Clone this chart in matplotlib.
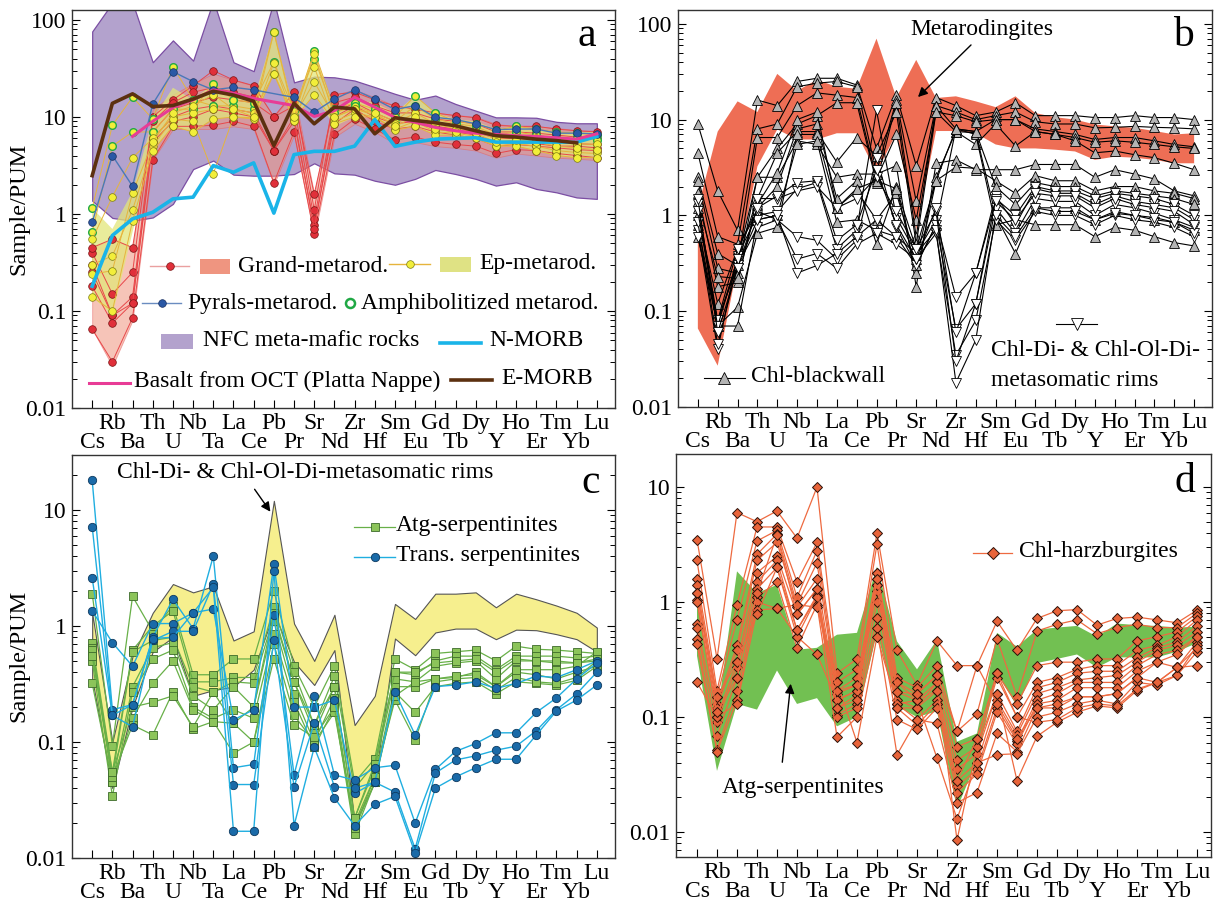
import numpy as np
import matplotlib
matplotlib.use('Agg')
import matplotlib.pyplot as plt
import matplotlib.transforms as mtransforms
from matplotlib.lines import Line2D
from matplotlib.patches import Rectangle, FancyArrowPatch
from matplotlib.ticker import NullFormatter

plt.rcParams['font.family'] = ['Liberation Serif', 'DejaVu Serif']
plt.rcParams['font.size'] = 17

W, H = 1216, 902
FS = 17
elements = ['Cs', 'Rb', 'Ba', 'Th', 'U', 'Nb', 'Ta', 'La', 'Ce', 'Pb', 'Pr', 'Sr', 'Nd',
            'Zr', 'Hf', 'Sm', 'Eu', 'Gd', 'Tb', 'Dy', 'Y', 'Ho', 'Er', 'Tm', 'Yb', 'Lu']
x = np.arange(len(elements))

# ---------------- panel a ----------------
nfc_hi = [76, 150, 150, 36.6, 61.5, 38, 158, 36.6, 29.6, 158, 22.7, 26, 25.6, 23.7, 20.3,
          17.3, 15.0, 16.6, 13.6, 11.6, 9.9, 9.9, 9.8, 8.9, 8.6, 8.6]
nfc_lo = [1.37, 0.91, 0.85, 0.92, 1.27, 2.9, 3.55, 2.54, 2.48, 2.48, 2.58, 3.33, 2.62, 2.54, 2.2,
          2.0, 2.3, 2.84, 2.58, 2.3, 1.96, 2.12, 1.81, 1.67, 1.48, 1.43]
grand_hi = [0.45, 0.55, 0.45, 12, 17, 22, 28, 24, 21, 10, 18, 1.6, 17, 19, 16,
            13, 13, 11, 10.5, 10, 8.5, 8, 8, 7.7, 7.3, 7.2]
grand_lo = [0.065, 0.027, 0.08, 3.6, 7.5, 7.5, 7.5, 8, 7.5, 2.0, 6.5, 0.58, 6.2, 8.5, 7,
            5.3, 5.5, 5, 4.8, 4.5, 3.8, 4.2, 4, 3.8, 3.7, 3.6]
ep_hi = [1.15, 0.7, 1.7, 9.5, 20, 15, 22, 16, 15, 75, 12, 48, 12, 15, 14,
         11, 16.5, 11, 9.5, 9, 7.5, 8, 7.5, 7, 7, 7]
ep_lo = [0.14, 0.09, 0.65, 4.5, 8, 7, 9.5, 10, 9.5, 28, 9, 17, 8, 10, 10,
         7.3, 8, 6.5, 6.5, 6, 5, 5, 4.5, 4, 3.8, 3.8]
grand_samples = [
    [0.065, 0.03, 0.085, 3.6, 8, 8, 8.2, 9, 8, 2.1, 7, 0.62, 6.6, 9.5, 7.5, 5.8, 6.2, 5.5, 5.2, 5, 4.2, 4.6, 4.5, 4.2, 4, 3.8],
    [0.18, 0.075, 0.12, 5.5, 9, 10, 12, 11, 10, 4.5, 9, 0.77, 8.5, 12, 9, 7.5, 8, 7, 6.5, 6, 5, 5.2, 5, 4.8, 4.6, 4.5],
    [0.3, 0.09, 0.14, 7, 12, 14, 16, 15, 14, 10, 13, 0.88, 11, 14, 11, 9, 9.5, 8, 7.5, 7, 6, 6, 5.8, 5.5, 5.3, 5.2],
    [0.4, 0.15, 0.25, 10, 15, 21, 30, 24, 21, 10, 18, 1.1, 17, 18, 15, 13, 12, 11, 10.3, 9.8, 8.2, 8, 8, 7.5, 7.2, 7],
    [0.45, 0.55, 0.45, 9, 14, 18, 20, 18, 16, 4.5, 15, 1.6, 14, 16, 13, 11, 11, 9.5, 9, 8.5, 7, 7, 6.8, 6.5, 6.2, 6],
    [0.25, 0.09, 0.12, 6, 10, 12, 13, 12, 11, 4.5, 10, 0.7, 10, 13, 10, 8.5, 9, 7.5, 7, 6.5, 5.5, 5.5, 5.3, 5, 5, 4.8],
]
ep_samples = [
    [1.15, 8.2, 16, 9.5, 33, 15, 13, 13, 12, 75, 11, 48, 12, 14, 12, 10, 16.5, 11, 9, 8.5, 7.3, 8, 7.5, 7, 6.8, 6.5],
    [0.65, 5, 7, 7, 12, 12, 22, 15, 14, 37, 11.5, 40, 11, 13, 11, 9, 13, 9.5, 8.5, 8, 6.5, 7, 6.5, 6, 6, 5.8],
    [0.55, 1.5, 3.8, 6, 10, 11, 12, 12, 11, 28, 10, 23, 10, 12, 10.5, 8.5, 11, 8.5, 7.5, 7, 6, 6.2, 6, 5.5, 5.3, 5.2],
    [0.3, 0.37, 1.1, 5, 9.5, 9, 2.6, 10, 9.8, 36, 9.5, 17, 9, 11, 10, 7.5, 9, 7, 6.8, 6.3, 5, 5.3, 5, 4.5, 4.3, 4.2],
    [0.14, 0.1, 0.85, 4.5, 8, 7, 9.5, 10, 9.5, 28, 9, 33, 8.5, 10, 10, 7.3, 8, 6.5, 6.5, 6, 5, 5, 4.5, 4, 3.8, 3.8],
    [0.24, 0.26, 1.65, 5.5, 11, 13, 17, 12, 10, 75, 10, 45, 10, 12, 11, 8, 10, 7.5, 7, 6.8, 5.5, 5.8, 5.5, 5, 4.8, 4.6],
]
pyrals_x = [0, 1, 2, 3, 4, 5, 6, 7, 8, 10, 11, 12, 13, 14, 15, 16, 17, 18, 19, 20, 21, 22, 23, 24, 25]
pyrals = [0.82, 4.0, 1.93, 13.6, 29.3, 23.1, 19, 20.2, 19.0, 15.9, 11.2, 15.3, 19.0, 15.3,
          11.9, 13.1, 9.9, 9.4, 8.5, 7.4, 7.5, 7.5, 6.8, 6.8, 6.7]
n_morb = [0.18, 0.6, 0.89, 1.04, 1.43, 1.49, 3.15, 2.69, 3.36, 1.02, 4.09, 4.42, 4.42, 5.0, 9.4,
          4.97, 5.5, 5.9, 6.0, 6.1, 5.5, 5.5, 5.5, 5.5, 5.5, 6.3]
e_morb_x = list(range(25))
e_morb = [2.48, 13.8, 17.3, 12.8, 13.1, 15.3, 18.4, 16.8, 14.5, 5.06, 13.8, 8.5, 12.6, 12.1, 6.7,
          9.8, 9.2, 8.7, 8.1, 7.2, 6.4, 6.2, 5.9, 5.7, 5.4]
oct_x = [2, 3, 4, 5, 6, 7, 8, 10, 11, 12, 13, 14, 15, 16, 17, 18, 19, 20, 21, 22, 23, 24, 25]
oct_basalt = [6.3, 9.0, 12.5, 15, 19, 17.5, 15.5, 13.1, 10.1, 11.6, 15.9, 12.6, 9.9, 8.8, 7.8,
              7.2, 6.8, 6.6, 6.4, 6.3, 6.1, 5.9, 6.7]

# ---------------- panel b ----------------
metarod_hi = [1.2, 7.5, 15.5, 12, 30, 20, 26, 22, 21, 70, 17, 42, 16.8, 17.5, 15.5,
              13.5, 17.5, 11.7, 10.6, 10, 8.9, 8.5, 8.2, 7.6, 7.0, 7.2]
metarod_lo = [0.066, 0.027, 0.3, 3.25, 7.9, 6.2, 6.2, 7.2, 7.2, 2.8, 7.2, 0.71, 7.6, 7.6, 7.2,
              5.5, 5.0, 5.0, 4.85, 4.65, 3.8, 4.1, 4.0, 3.8, 3.5, 3.5]
blackwall = [
    [9, 1.8, 0.7, 16, 14, 25, 27, 27, 23, 5, 18, 3.3, 17, 14, 11, 12, 15, 11, 11, 11, 10.5, 10.5, 11, 10.5, 10.5, 10],
    [4.5, 0.6, 0.5, 8, 9, 22, 24, 25, 22, 2.8, 16, 1.4, 14, 12, 10, 11, 12, 9.5, 9, 9, 8.2, 8.3, 8.5, 8.3, 8.2, 8],
    [2.5, 0.4, 0.3, 6.5, 6.5, 14, 19, 18, 17, 2.4, 7, 0.9, 12, 11, 9.5, 10, 10, 8, 7.5, 7, 6.2, 6.5, 6.5, 6, 5.5, 5.2],
    [2.3, 0.28, 0.25, 2.5, 5, 9, 11, 15, 15, 2.2, 15, 0.6, 14, 8, 7.5, 10, 10, 7.5, 7, 6.5, 5.8, 6, 5.8, 5.5, 5.2, 5],
    [1.7, 0.18, 0.2, 1.5, 4.5, 7.5, 7.5, 3.6, 6.5, 4.2, 12, 0.5, 12, 7.5, 5.5, 9, 5.3, 7.5, 7, 6, 4.5, 4.7, 4.3, 4, 3.5, 3],
    [1.2, 0.075, 0.35, 2.5, 2.5, 6, 5.5, 2.5, 2.7, 2.7, 3.3, 0.18, 3.5, 3.8, 3, 3, 3, 3.4, 3.4, 3.4, 2.5, 3, 2.7, 2.4, 1.8, 1.6],
    [1.0, 0.12, 0.45, 1.2, 2.0, 8, 9, 1.5, 2.3, 0.5, 2.0, 0.25, 2.3, 3.2, 3.1, 2.3, 1.7, 2.6, 2.3, 2.3, 1.8, 2, 2, 1.8, 1.7, 1.5],
    [0.8, 0.07, 0.11, 0.65, 0.75, 7, 7, 1.2, 1.8, 0.9, 1.7, 0.35, 2.5, 7.5, 7.3, 1.0, 0.4, 1.2, 1.2, 1.2, 0.9, 1.1, 1.0, 0.9, 0.85, 0.7],
    [0.6, 0.07, 0.07, 0.9, 1.0, 5.5, 6, 0.85, 0.9, 0.7, 0.6, 0.3, 0.8, 8, 7, 0.8, 0.9, 0.8, 0.8, 0.8, 0.6, 0.75, 0.7, 0.6, 0.52, 0.48],
    [1.4, 0.23, 0.22, 1.3, 2.8, 10, 12, 1.2, 1.9, 2.3, 1.9, 0.45, 2.3, 8, 7.5, 2.0, 1.3, 2.2, 2.0, 2.0, 1.6, 1.8, 1.7, 1.6, 1.5, 1.3],
]
rims_b = [
    [0.7, 0.04, 0.38, 1.0, 1.1, 1.9, 2.2, 0.45, 0.7, 12.5, 0.95, 0.4, 0.9, 0.14, 0.25, 1.6, 0.8, 1.9, 1.7, 1.7, 1.3, 1.6, 1.4, 1.3, 1.2, 0.9],
    [0.85, 0.045, 0.3, 0.75, 0.9, 0.6, 0.55, 0.35, 0.55, 4, 0.75, 0.3, 0.8, 0.065, 0.12, 1.2, 0.65, 1.5, 1.4, 1.4, 1.0, 1.3, 1.2, 1.05, 0.9, 0.75],
    [1.3, 0.08, 0.45, 1.1, 0.9, 0.35, 0.4, 0.28, 0.5, 0.65, 0.5, 0.35, 0.65, 0.035, 0.08, 0.9, 0.55, 1.1, 1.0, 1.0, 0.8, 1.0, 0.9, 0.85, 0.75, 0.6],
    [0.6, 0.08, 0.3, 0.9, 1.0, 0.25, 0.3, 0.4, 0.6, 0.9, 0.6, 0.4, 0.7, 0.018, 0.05, 1.0, 0.6, 1.2, 1.1, 1.1, 0.9, 1.05, 1.0, 0.95, 0.85, 0.65],
    [1.1, 0.07, 0.35, 1.5, 1.5, 1.8, 2.0, 1.2, 1.5, 2.5, 1.1, 0.45, 1.1, 0.03, 0.12, 1.5, 1.0, 2.0, 1.8, 1.8, 1.5, 1.7, 1.6, 1.5, 1.3, 1.0],
    [1.5, 0.06, 0.28, 1.2, 1.6, 2.2, 2.3, 0.55, 0.8, 3.0, 0.8, 0.35, 1.2, 0.06, 0.25, 1.4, 0.9, 1.7, 1.6, 1.6, 1.2, 1.5, 1.3, 1.2, 1.1, 0.8],
]

# ---------------- panel c ----------------
rims_hi = [1.3, 0.1, 0.55, 1.3, 2.3, 1.95, 2.2, 0.75, 0.9, 12, 1.05, 0.5, 1.25, 0.14, 0.25,
           1.55, 1.15, 1.9, 1.9, 1.95, 1.45, 1.9, 1.7, 1.5, 1.3, 0.97]
rims_lo = [0.35, 0.04, 0.2, 0.6, 0.8, 0.25, 0.28, 0.3, 0.42, 1.3, 0.49, 0.31, 0.62, 0.02, 0.045,
           0.78, 0.56, 0.88, 0.95, 0.95, 0.77, 0.93, 0.92, 0.85, 0.77, 0.6]
atg_samples = [
    [1.9, 0.093, 1.8, 0.9, 1.5, 0.38, 0.38, 0.52, 0.52, 2.0, 0.45, 0.2, 0.45, 0.045, 0.072, 0.52, 0.42, 0.58, 0.6, 0.62, 0.5, 0.67, 0.63, 0.62, 0.6, 0.58],
    [0.72, 0.055, 0.62, 1.0, 1.35, 0.33, 0.33, 0.36, 0.36, 1.45, 0.4, 0.14, 0.37, 0.04, 0.065, 0.4, 0.38, 0.5, 0.55, 0.55, 0.42, 0.55, 0.55, 0.55, 0.53, 0.55],
    [0.65, 0.05, 0.6, 0.75, 0.8, 0.3, 0.27, 0.33, 0.32, 1.2, 0.33, 0.12, 0.3, 0.022, 0.06, 0.35, 0.33, 0.45, 0.48, 0.5, 0.35, 0.5, 0.5, 0.48, 0.48, 0.5],
    [0.6, 0.045, 0.3, 0.65, 0.72, 0.25, 0.19, 0.3, 0.2, 1.1, 0.26, 0.1, 0.24, 0.018, 0.05, 0.3, 0.3, 0.35, 0.36, 0.4, 0.3, 0.4, 0.38, 0.35, 0.4, 0.45],
    [0.5, 0.034, 0.27, 0.52, 0.62, 0.2, 0.16, 0.19, 0.16, 0.85, 0.22, 0.09, 0.2, 0.016, 0.045, 0.27, 0.18, 0.3, 0.32, 0.33, 0.26, 0.33, 0.32, 0.31, 0.34, 0.45],
    [0.32, 0.045, 0.16, 0.32, 0.5, 0.19, 0.15, 0.145, 0.1, 0.7, 0.17, 0.1, 0.18, 0.02, 0.05, 0.23, 0.105, 0.33, 0.35, 0.36, 0.28, 0.36, 0.33, 0.32, 0.36, 0.5],
    [0.62, 0.05, 0.14, 0.115, 0.27, 0.13, 0.15, 0.08, 0.1, 0.52, 0.14, 0.11, 0.2, 0.018, 0.045, 0.25, 0.33, 0.35, 0.37, 0.38, 0.3, 0.42, 0.42, 0.42, 0.45, 0.6],
    [0.55, 0.055, 0.2, 0.22, 0.25, 0.135, 0.27, 0.145, 0.2, 1.3, 0.33, 0.14, 0.3, 0.022, 0.065, 0.4, 0.4, 0.48, 0.5, 0.52, 0.4, 0.52, 0.5, 0.5, 0.48, 0.52],
]
trans_samples = [
    [1.35, 0.72, 0.45, 1.05, 1.05, 1.3, 1.4, 0.155, 0.19, 3.4, 0.2, 0.2, 0.23, 0.036, 0.045, 0.27, 0.115, 0.3, 0.31, 0.33, 0.29, 0.32, 0.37, 0.36, 0.42, 0.5],
    [18, 0.19, 0.21, 0.8, 1.7, 0.95, 4.0, 0.06, 0.064, 1.25, 0.052, 0.25, 0.052, 0.047, 0.06, 0.063, 0.02, 0.058, 0.083, 0.097, 0.12, 0.12, 0.18, 0.24, 0.35, 0.48],
    [7.2, 0.17, 0.135, 0.75, 0.9, 0.9, 2.3, 0.043, 0.043, 0.75, 0.041, 0.145, 0.041, 0.04, 0.045, 0.037, 0.012, 0.054, 0.07, 0.076, 0.085, 0.092, 0.125, 0.19, 0.26, 0.4],
    [2.6, 0.17, 0.21, 0.78, 0.8, 1.3, 2.15, 0.017, 0.017, 3.0, 0.019, 0.09, 0.033, 0.019, 0.029, 0.034, 0.011, 0.04, 0.05, 0.06, 0.071, 0.071, 0.115, 0.185, 0.23, 0.31],
]

# ---------------- panel d ----------------
atg_hi = [1.05, 0.1, 1.85, 1.2, 1.41, 0.385, 0.4, 0.52, 0.54, 2.04, 0.455, 0.26, 0.47, 0.061, 0.072,
          0.54, 0.41, 0.575, 0.6, 0.62, 0.5, 0.65, 0.63, 0.62, 0.6, 0.61]
atg_lo = [0.34, 0.034, 0.13, 0.116, 0.254, 0.13, 0.146, 0.083, 0.1, 0.54, 0.124, 0.1, 0.112, 0.016, 0.042,
          0.24, 0.124, 0.295, 0.32, 0.35, 0.27, 0.33, 0.33, 0.33, 0.37, 0.44]
harz_samples = [
    [3.5, 0.32, 6.0, 5.0, 6.2, 3.6, 10, 0.24, 0.32, 4.0, 0.38, 0.19, 0.46, 0.28, 0.28, 0.68, 0.38, 0.72, 0.84, 0.86, 0.63, 0.72, 0.74, 0.7, 0.66, 0.85],
    [2.3, 0.17, 0.95, 4.5, 4.5, 1.5, 3.3, 0.2, 0.26, 3.2, 0.22, 0.18, 0.28, 0.075, 0.107, 0.48, 0.15, 0.56, 0.64, 0.7, 0.53, 0.6, 0.64, 0.6, 0.6, 0.8],
    [1.6, 0.15, 0.7, 3.4, 4.2, 1.1, 2.8, 0.17, 0.22, 1.8, 0.2, 0.16, 0.23, 0.055, 0.065, 0.24, 0.13, 0.28, 0.3, 0.3, 0.32, 0.32, 0.46, 0.5, 0.55, 0.75],
    [1.4, 0.13, 0.42, 2.6, 3.9, 0.95, 2.2, 0.16, 0.19, 1.6, 0.165, 0.14, 0.2, 0.042, 0.055, 0.22, 0.1, 0.2, 0.22, 0.26, 0.28, 0.28, 0.38, 0.42, 0.5, 0.7],
    [1.2, 0.12, 0.38, 2.3, 3.3, 0.9, 1.6, 0.14, 0.17, 1.4, 0.14, 0.12, 0.17, 0.035, 0.048, 0.16, 0.075, 0.18, 0.2, 0.24, 0.25, 0.25, 0.33, 0.4, 0.45, 0.62],
    [1.05, 0.1, 0.3, 1.8, 2.5, 0.78, 1.3, 0.12, 0.155, 1.25, 0.13, 0.095, 0.14, 0.028, 0.04, 0.14, 0.07, 0.16, 0.18, 0.21, 0.22, 0.23, 0.3, 0.38, 0.42, 0.55],
    [0.65, 0.09, 0.27, 1.5, 2.3, 0.57, 1.15, 0.105, 0.13, 1.0, 0.12, 0.085, 0.13, 0.025, 0.035, 0.12, 0.062, 0.14, 0.16, 0.2, 0.2, 0.2, 0.28, 0.35, 0.38, 0.5],
    [0.6, 0.068, 0.22, 1.3, 2.0, 0.5, 1.1, 0.1, 0.12, 0.73, 0.095, 0.078, 0.12, 0.022, 0.032, 0.11, 0.058, 0.13, 0.14, 0.18, 0.18, 0.18, 0.25, 0.3, 0.27, 0.45],
    [0.48, 0.052, 0.17, 1.1, 1.5, 0.4, 0.95, 0.067, 0.1, 0.6, 0.047, 0.095, 0.088, 0.018, 0.022, 0.072, 0.05, 0.12, 0.12, 0.15, 0.15, 0.16, 0.22, 0.2, 0.23, 0.42],
    [0.43, 0.05, 0.14, 1.0, 0.88, 0.95, 0.9, 0.2, 0.06, 0.5, 0.13, 0.14, 0.044, 0.013, 0.04, 0.047, 0.048, 0.1, 0.11, 0.13, 0.14, 0.13, 0.2, 0.19, 0.23, 0.37],
    [0.2, 0.1, 0.13, 0.85, 0.88, 0.5, 0.35, 0.14, 0.17, 1.4, 0.12, 0.12, 0.2, 0.0085, 0.055, 0.16, 0.028, 0.068, 0.09, 0.11, 0.125, 0.12, 0.17, 0.2, 0.27, 0.28],
    [1.2, 0.15, 0.3, 0.78, 2.0, 0.57, 1.1, 0.17, 0.19, 1.8, 0.2, 0.14, 0.17, 0.028, 0.065, 0.24, 0.1, 0.09, 0.095, 0.12, 0.13, 0.125, 0.175, 0.2, 0.27, 0.4],
    [1.0, 0.11, 0.22, 1.2, 3.8, 0.78, 1.3, 0.12, 0.14, 1.6, 0.165, 0.16, 0.23, 0.075, 0.28, 0.13, 0.065, 0.12, 0.13, 0.15, 0.15, 0.16, 0.22, 0.3, 0.35, 0.5],
]

fig = plt.figure(figsize=(W / 100, H / 100), dpi=100)
fig.patch.set_facecolor('white')


def fx(px):
    return px / W


def fy(py):
    return 1 - py / H


def make_ax(box, ylim, yticks, xlim=(-1, 25.9)):
    L, T, R, B = box
    ax = fig.add_axes([L / W, 1 - B / H, (R - L) / W, (B - T) / H])
    ax.set_yscale('log')
    ax.set_yticks(yticks)
    ax.set_yticklabels([('%g' % v) for v in yticks])
    ax.yaxis.set_minor_formatter(NullFormatter())
    ax.set_xlim(*xlim)
    ax.set_ylim(*ylim)
    ax.set_xticks(x)
    ax.set_xticklabels([])
    ax.tick_params(which='both', direction='in', right=True, top=False)
    ax.tick_params(which='major', length=6, width=0.8, labelsize=FS, pad=4)
    ax.tick_params(which='minor', length=3.5, width=0.7)
    for sp in ax.spines.values():
        sp.set_linewidth(1.0)
        sp.set_color('#333333')
    # element names in two staggered rows
    for i, el in enumerate(elements):
        dy = 21 if i % 2 else 40
        tr = mtransforms.offset_copy(ax.get_xaxis_transform(), fig=fig, x=0, y=-dy, units='dots')
        ax.text(i, 0, el, transform=tr, ha='center', va='baseline', fontsize=FS)
    return ax


def leg_line(x1, x2, y, color, lw=1.0, marker=None, **mk):
    fig.add_artist(Line2D([fx(x1), fx(x2)], [fy(y), fy(y)], color=color, lw=lw,
                          transform=fig.transFigure))
    if marker:
        fig.add_artist(Line2D([fx((x1 + x2) / 2)], [fy(y)], marker=marker, linestyle='none',
                              transform=fig.transFigure, **mk))


def leg_patch(x1, x2, y, color, h=14, alpha=1.0):
    fig.add_artist(Rectangle((fx(x1), fy(y + h / 2)), (x2 - x1) / W, h / H, color=color,
                             alpha=alpha, lw=0, transform=fig.transFigure))


def ftext(px, py, s, **kw):
    kw.setdefault('fontsize', FS)
    kw.setdefault('va', 'center')
    fig.text(fx(px), fy(py), s, **kw)


def arrow(p1, p2):
    fig.add_artist(FancyArrowPatch((fx(p1[0]), fy(p1[1])), (fx(p2[0]), fy(p2[1])),
                                   transform=fig.transFigure, arrowstyle='-|>',
                                   mutation_scale=14, color='black', lw=1.0))


# ================= panel a =================
axa = make_ax((72, 9.5, 615, 408), (0.01, 128), [0.01, 0.1, 1, 10, 100])
axa.fill_between(x, nfc_lo, nfc_hi, facecolor='#b3a2cd', edgecolor='#7b4ea3', lw=0.9, zorder=1)
axa.fill_between(x, grand_lo, grand_hi, facecolor='#f0957e', edgecolor='#e86060', lw=0.6,
                 alpha=0.55, zorder=2)
axa.fill_between(x, ep_lo, ep_hi, facecolor='#e2e67a', edgecolor='none', alpha=0.75, zorder=3)
for s in grand_samples:
    axa.plot(x, s, color='#e8474a', lw=0.7, marker='o', ms=5.5, mfc='#e0303a', mec='#7a1515',
             mew=0.5, zorder=4)
for k, s in enumerate(ep_samples):
    edge = '#22aa44' if k < 2 else '#7a7a15'
    axa.plot(x, s, color='#e6b43c', lw=0.7, marker='o', ms=5.5, mfc='#f2ee3a', mec=edge,
             mew=1.0 if k < 2 else 0.5, zorder=5)
axa.plot(pyrals_x, pyrals, color='#4a78b8', lw=1.0, marker='o', ms=5.5, mfc='#2a58a5',
         mec='#1a3060', mew=0.5, zorder=6)
axa.plot(x, n_morb, color='#1ab4e8', lw=2.6, zorder=7)
axa.plot(oct_x, oct_basalt, color='#e83c96', lw=2.2, zorder=7)
axa.plot(e_morb_x, e_morb, color='#5c3010', lw=2.6, zorder=8)
ftext(587, 36, 'a', fontsize=30, ha='center')

leg_line(150, 189, 266, '#eaa0a0', 1.0, 'o', ms=5.5, mfc='#e0303a', mec='#7a1515', mew=0.5)
leg_patch(200, 230, 266, '#ee8a72', h=15, alpha=0.9)
ftext(238, 266, 'Grand-metarod.')
leg_line(389, 430, 264, '#e6b43c', 1.0, 'o', ms=5.5, mfc='#f2ee3a', mec='#7a7a15', mew=0.5)
leg_patch(440, 471, 264, '#dfe284', h=15)
ftext(479, 264, 'Ep-metarod.')
leg_line(142, 181, 303, '#6a8cc0', 1.0, 'o', ms=5.5, mfc='#2a58a5', mec='#1a3060', mew=0.5)
ftext(187, 303, 'Pyrals-metarod.')
leg_line(345, 355, 303, 'none', 0, 'o', ms=6.5, mfc='none', mec='#1fa844', mew=1.8)
ftext(361, 303, 'Amphibolitized metarod.')
leg_patch(161, 193, 341, '#b3a2cd', h=15)
ftext(203, 341, 'NFC meta-mafic rocks')
leg_line(440, 481, 343, '#1ab4e8', 2.6)
ftext(489, 341, 'N-MORB')
leg_line(89, 130, 383, '#e83c96', 2.2)
ftext(134, 381, 'Basalt from OCT (Platta Nappe)')
leg_line(451, 492, 380, '#5c3010', 2.6)
ftext(501, 379, 'E-MORB')

# ================= panel b =================
axb = make_ax((678, 9.5, 1212, 407), (0.01, 141), [0.01, 0.1, 1, 10, 100])
axb.fill_between(x, metarod_lo, metarod_hi, facecolor='#ee6e55', edgecolor='none', zorder=1)
for s in blackwall:
    axb.plot(x, s, color='black', lw=0.8, marker='^', ms=7, mfc='#b4b4b4', mec='black',
             mew=0.6, zorder=3)
for s in rims_b:
    axb.plot(x, s, color='black', lw=0.8, marker='v', ms=7, mfc='white', mec='black',
             mew=0.6, zorder=4)
ftext(1183, 36, 'b', fontsize=30, ha='center')
ftext(982, 30, 'Metarodingites', ha='center')
arrow((973, 43), (916, 99))
leg_line(704, 745, 378, 'black', 0.8, '^', ms=8, mfc='#b4b4b4', mec='black', mew=0.6)
ftext(751, 376, 'Chl-blackwall')
leg_line(1056, 1097, 324, 'black', 0.8, 'v', ms=8, mfc='white', mec='black', mew=0.6)
ftext(991, 351, 'Chl-Di- & Chl-Ol-Di-')
ftext(991, 380, 'metasomatic rims')

# ================= panel c =================
axc = make_ax((72, 455, 615, 858), (0.01, 29.8), [0.01, 0.1, 1, 10])
axc.fill_between(x, rims_lo, rims_hi, facecolor='#f6ef8e', edgecolor='#555555', lw=0.8, zorder=1)
for s in atg_samples:
    axc.plot(x, s, color='#68b048', lw=0.9, marker='s', ms=6, mfc='#8cc45a', mec='#3c6a2a',
             mew=0.6, zorder=3)
for s in trans_samples:
    axc.plot(x, s, color='#20aee0', lw=1.0, marker='o', ms=6, mfc='#1a6aa8', mec='#0d3a60',
             mew=0.6, zorder=4)
ftext(591, 483, 'c', fontsize=30, ha='center')
ftext(305, 473, 'Chl-Di- & Chl-Ol-Di-metasomatic rims', ha='center')
arrow((253, 487), (272, 514))
leg_line(354, 395, 527, '#68b048', 0.9, 's', ms=6, mfc='#8cc45a', mec='#3c6a2a', mew=0.6)
ftext(396, 525, 'Atg-serpentinites')
leg_line(354, 395, 557, '#20aee0', 1.0, 'o', ms=6, mfc='#1a6aa8', mec='#0d3a60', mew=0.6)
ftext(396, 555, 'Trans. serpentinites')

# ================= panel d =================
axd = make_ax((676, 454, 1211, 857), (0.00606, 19.4), [0.01, 0.1, 1, 10], xlim=(-1.05, 25.7))
axd.fill_between(x, atg_lo, atg_hi, facecolor='#72c052', edgecolor='none', zorder=1)
for s in harz_samples:
    axd.plot(x, s, color='#ee6a40', lw=0.9, marker='D', ms=5.5, mfc='#e8643a', mec='#2a1008',
             mew=0.7, zorder=3)
ftext(1185, 482, 'd', fontsize=30, ha='center')
leg_line(973, 1012, 553, '#ee6a40', 0.9, 'D', ms=6, mfc='#e8643a', mec='#2a1008', mew=0.7)
ftext(1019, 551, 'Chl-harzburgites')
ftext(803, 787, 'Atg-serpentinites', ha='center')
arrow((782, 765), (791, 681))

ftext(19, 209, 'Sample/PUM', rotation=90, ha='center', fontsize=17.5)
ftext(19, 656, 'Sample/PUM', rotation=90, ha='center', fontsize=17.5)

fig.savefig('out.png', dpi=100)
